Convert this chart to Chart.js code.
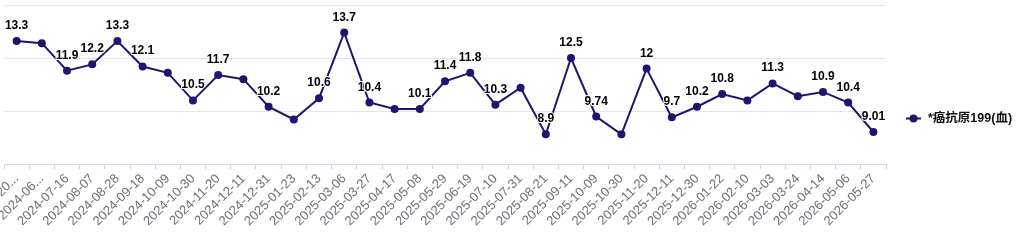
<!DOCTYPE html>
<html>
<head>
<meta charset="utf-8">
<title>癌抗原199</title>
<script src="https://cdn.jsdelivr.net/npm/chart.js@4/dist/chart.umd.min.js"></script>
<style>
  body { margin: 0; background: #fff; }
  canvas { display: block; }
</style>
</head>
<body>
<canvas id="myChart" width="1019" height="240"></canvas>
<script>
const seriesName = "*癌抗原199(血)";

const dates = [
    "20...", "2024-06...", "2024-07-16", "2024-08-07", "2024-08-28", "2024-09-18", "2024-10-09",
    "2024-10-30", "2024-11-20", "2024-12-11", "2024-12-31", "2025-01-23", "2025-02-13",
    "2025-03-06", "2025-03-27", "2025-04-17", "2025-05-08", "2025-05-29", "2025-06-19",
    "2025-07-10", "2025-07-31", "2025-08-21", "2025-09-11", "2025-10-09", "2025-10-30",
    "2025-11-20", "2025-12-11", "2025-12-30", "2026-01-22", "2026-02-10", "2026-03-03",
    "2026-03-24", "2026-04-14", "2026-05-06", "2026-05-27"
];

const values = [
    13.3, 13.2, 11.9, 12.2, 13.3, 12.1, 11.8,
    10.5, 11.7, 11.5, 10.2, 9.6, 10.6,
    13.7, 10.4, 10.1, 10.1, 11.4, 11.8,
    10.3, 11.1, 8.9, 12.5, 9.74, 8.9,
    12, 9.7, 10.2, 10.8, 10.5, 11.3,
    10.7, 10.9, 10.4, 9.01
];

// labels the original chart left out (they overlap their neighbours)
const hiddenLabels = [1, 6, 9, 11, 15, 20, 24, 29, 31];

const yMin = 7.5;
const yMax = 15;
const yStep = 2.5;

const lineColor = "#24126e";
const labelFont = 'bold 12px "Liberation Sans", Arial, "Noto Sans CJK SC", sans-serif';
const legendFont = 'bold 12.5px "Liberation Sans", Arial, "Noto Sans CJK SC", sans-serif';

// value labels above the points
const pointLabels = {
    id: "pointLabels",
    afterDatasetsDraw(chart) {
        const ctx = chart.ctx;
        const meta = chart.getDatasetMeta(0);
        ctx.save();
        ctx.font = labelFont;
        ctx.textAlign = "center";
        ctx.textBaseline = "alphabetic";
        ctx.lineJoin = "round";
        meta.data.forEach((pt, i) => {
            if (hiddenLabels.includes(i)) return;
            const text = String(values[i]);
            ctx.strokeStyle = "#fff";
            ctx.lineWidth = 2;
            ctx.strokeText(text, pt.x, pt.y - 12);
            ctx.fillStyle = "#000";
            ctx.fillText(text, pt.x, pt.y - 12);
        });
        ctx.restore();
    }
};

// legend on the right: line + dot, then the name
const sideLegend = {
    id: "sideLegend",
    afterDraw(chart) {
        const ctx = chart.ctx;
        const area = chart.chartArea;
        const y = (area.top + area.bottom) / 2 + 34;
        const x = area.right + 20;
        ctx.save();
        ctx.strokeStyle = lineColor;
        ctx.lineWidth = 2;
        ctx.beginPath();
        ctx.moveTo(x, y);
        ctx.lineTo(x + 15, y);
        ctx.stroke();
        ctx.fillStyle = lineColor;
        ctx.beginPath();
        ctx.arc(x + 7.5, y, 4, 0, Math.PI * 2);
        ctx.fill();
        ctx.font = legendFont;
        ctx.fillStyle = "#111";
        ctx.textAlign = "left";
        ctx.textBaseline = "middle";
        ctx.fillText(seriesName, x + 22, y);
        ctx.restore();
    }
};

const ctx = document.getElementById("myChart");

const myChart = new Chart(ctx, {
    type: "line",
    data: {
        labels: dates,
        datasets: [{
            label: seriesName,
            data: values,
            borderColor: lineColor,
            backgroundColor: lineColor,
            borderWidth: 2,
            pointRadius: 4,
            pointHoverRadius: 4,
            pointBackgroundColor: lineColor,
            pointBorderWidth: 0,
            tension: 0
        }]
    },
    options: {
        responsive: false,
        animation: false,
        layout: { padding: { left: 3, right: 133, top: 5, bottom: 0 } },
        plugins: {
            legend: { display: false },
            tooltip: { enabled: false }
        },
        scales: {
            x: {
                offset: true,
                grid: {
                    offset: true,
                    drawOnChartArea: false,
                    drawTicks: true,
                    tickLength: 5,
                    color: "#c9d4eb"
                },
                border: { color: "#c9d4eb", width: 1 },
                ticks: {
                    autoSkip: false,
                    maxRotation: 45,
                    minRotation: 45,
                    padding: 2,
                    color: "#6e7079",
                    font: { family: '"Liberation Sans", Arial, sans-serif', size: 13 }
                },
                afterFit: (scale) => {
                    scale.height = 76;
                    scale.paddingLeft = 0;
                    scale.paddingRight = 0;
                }
            },
            y: {
                min: yMin,
                max: yMax,
                ticks: { display: false, stepSize: yStep },
                border: { display: false },
                grid: { color: "#e0e6f1", drawTicks: false },
                afterFit: (scale) => {
                    scale.width = 0;
                }
            }
        }
    },
    plugins: [pointLabels, sideLegend]
});
</script>
</body>
</html>
